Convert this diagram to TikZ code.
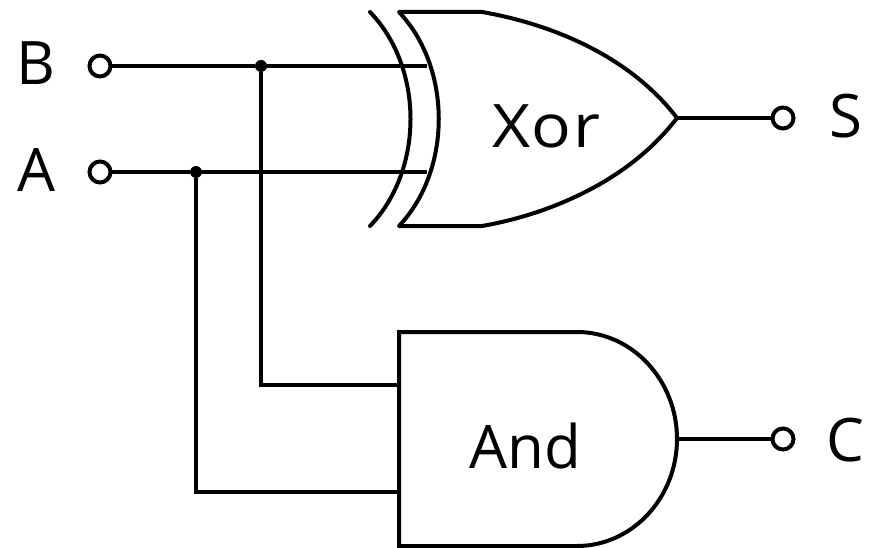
\documentclass[tikz,border=0pt]{standalone}
\usepackage{fontspec}
\setmainfont{Open Sans}
\newfontfamily\widefont[FakeStretch=1.1]{Open Sans}
\begin{document}
\begin{tikzpicture}[x=1pt,y=-1pt,line width=4pt,
  pin/.style={circle,draw,fill=white,line width=4pt,minimum size=21pt,inner sep=0pt,outer sep=0pt},
  dot/.style={circle,fill=black,minimum size=12pt,inner sep=0pt,outer sep=0pt},
  lbl/.style={font=\fontsize{60}{60}\selectfont,inner sep=0pt,anchor=base}]
\useasboundingbox (0,0) rectangle (872,548);
\coordinate (i1) at (427,66);
\coordinate (i2) at (427,172);
\coordinate (i3) at (399,385);
\coordinate (i4) at (399,492);
\coordinate (o1) at (677,118);
\coordinate (o2) at (677,439);
\draw[line join=round] (399,12) -- (482,12) .. controls (540,22) and (625,50) .. (677,118) .. controls (625,186) and (540,216) .. (482,226) -- (399,226) .. controls (452,170) and (452,68) .. (399,12) -- cycle;
\draw[line cap=round] (370,12) .. controls (424,68) and (424,170) .. (370,226);
\draw (399,332) -- (577,332) .. controls (632,332) and (677,380) .. (677,439) .. controls (677,498) and (632,546) .. (577,546) -- (399,546) -- cycle;
\node[pin] (b) at (100,66) {};
\node[pin] (a) at (100,172) {};
\node[pin] (s) at (783,118) {};
\node[pin] (c) at (783,439) {};
\node[dot] (d1) at (261,66) {};
\node[dot] (d2) at (196,172) {};
\draw (b) -- (d1) -- (i1);
\draw (a) -- (d2) -- (i2);
\draw (d1) |- (i3);
\draw (d2) |- (i4);
\draw (o1) -- (s);
\draw (o2) -- (c);
\node[lbl] (lb) at (36,85) {B};
\node[lbl] (la) at (36,192) {A};
\node[lbl] (ls) at (846,138) {S};
\node[lbl] (lc) at (845,461) {C};
\node[lbl] (x) at (546.5,148) {\widefont X\kern1pt o\kern3pt r};
\node[lbl] (n) at (525,468) {And};
\end{tikzpicture}
\end{document}
